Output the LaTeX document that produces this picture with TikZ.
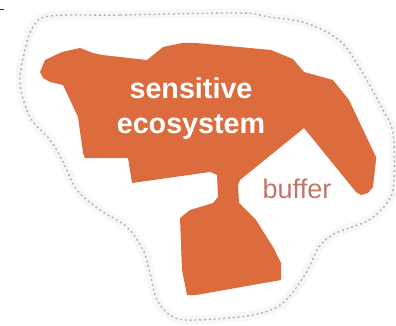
\documentclass[tikz,border=0pt]{standalone}
\usepackage{fontspec}
\setmainfont{Liberation Sans}
\definecolor{habitat}{HTML}{DC6C3E}
\definecolor{buffertext}{HTML}{C27468}
\begin{document}
\begin{tikzpicture}[x=1pt,y=-1pt]
\useasboundingbox (0,0) rectangle (396,326);
\draw[black!80,line width=0.8pt] (0,9) -- (4,9);    % the tick in the corner
\begin{scope}
\draw[black!3,line width=9pt,line join=round] plot[smooth cycle,tension=0.55] coordinates {
  (50,16) (120,15) (239,13) (269,17) (306,23) (339,40) (359,67) (383,110) (393,133)
  (394,180) (389,200) (369,220) (336,233) (319,247) (306,273) (283,303) (253,315)
  (196,320) (173,317) (157,300) (150,273) (143,250) (127,227) (100,210) (77,190)
  (62,160) (50,140) (30,117) (20,83) (25,50) (33,27)};   % halo of the buffer line
\draw[black!30,line width=1.4pt,dash pattern=on 2pt off 2.8pt] plot[smooth cycle,tension=0.55] coordinates {
  (50,16) (120,15) (239,13) (269,17) (306,23) (339,40) (359,67) (383,110) (393,133)
  (394,180) (389,200) (369,220) (336,233) (319,247) (306,273) (283,303) (253,315)
  (196,320) (173,317) (157,300) (150,273) (143,250) (127,227) (100,210) (77,190)
  (62,160) (50,140) (30,117) (20,83) (25,50) (33,27)};   % the buffer line
\end{scope}
\fill[habitat] (40,72) -- (45,60) -- (62,52) -- (80,48) -- (93,53) -- (102,55) -- (147,60)
  -- (163,47) -- (182,43) -- (196,43) -- (271,50) -- (293,59) -- (304,72) -- (333,80)
  -- (349,100) -- (376,157) -- (376,160) -- (373,187) -- (368,193) -- (361,195) -- (356,192)
  -- (304,128) -- (240,180) -- (238,185) -- (239,203) -- (256,220) -- (273,247) -- (281,263)
  -- (281,280) -- (196,295) -- (187,295) -- (182,270) -- (180,218) -- (190,210) -- (213,203)
  -- (218,197) -- (217,175) -- (210,172) -- (132,183) -- (128,158) -- (85,158) -- (83,153)
  -- (78,117) -- (63,85) -- (50,82) -- (43,78) -- cycle;   % the sensitive ecosystem
\node[align=center,text=white,font=\fontsize{28.7}{34.5}\selectfont\bfseries,anchor=base] (eco) at (191,133) {sensitive\\ecosystem};
\node[text=buffertext,font=\fontsize{27}{32}\selectfont,anchor=base] (buf) at (297,198) {buffer};
\end{tikzpicture}
\end{document}
